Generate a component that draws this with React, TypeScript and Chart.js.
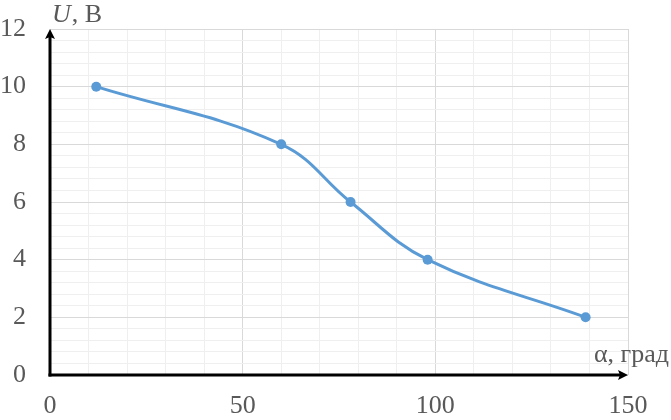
import React, { useEffect, useRef } from 'react';
import { Chart, registerables } from 'chart.js';

Chart.register(...registerables);

// ---- data ----
const alphaDeg = [12, 60, 78, 98, 139];
const voltage = [10, 8, 6, 4, 2];

const xMin = 0;
const xMax = 150;
const xMajorStep = 50;
const xMinorStep = 10;
const yMin = 0;
const yMax = 12;
const yMajorStep = 2;
const yMinorStep = 0.4;

const xTitle = 'α, град';
const yTitleVar = 'U';
const yTitleUnit = ', В';

const FONT = '"Liberation Serif", "Times New Roman", serif';
const TEXT_COLOR = '#595959';
const LINE_COLOR = '#5B9BD5';
const MAJOR_GRID = '#d9d9d9';
const MINOR_GRID = '#efefef';

const isMultiple = (v: number, step: number) => Math.abs(v / step - Math.round(v / step)) < 1e-6;

const arrowAxesPlugin = {
  id: 'arrowAxes',
  afterDraw(chart: any) {
    const { ctx, chartArea: ca, scales } = chart;
    const x0 = scales.x.getPixelForValue(xMin);
    const y0 = scales.y.getPixelForValue(yMin);
    const xEnd = scales.x.getPixelForValue(xMax);
    const yEnd = scales.y.getPixelForValue(yMax);
    ctx.save();
    ctx.strokeStyle = '#000';
    ctx.fillStyle = '#000';
    ctx.lineWidth = 3;
    ctx.lineCap = 'butt';
    // y axis
    ctx.beginPath();
    ctx.moveTo(x0, y0 + 1.5);
    ctx.lineTo(x0, yEnd + 6);
    ctx.stroke();
    ctx.beginPath();
    ctx.moveTo(x0, yEnd);
    ctx.lineTo(x0 - 5, yEnd + 10);
    ctx.lineTo(x0, yEnd + 8);
    ctx.lineTo(x0 + 5, yEnd + 10);
    ctx.closePath();
    ctx.fill();
    // x axis
    ctx.beginPath();
    ctx.moveTo(x0 - 1.5, y0);
    ctx.lineTo(xEnd - 6, y0);
    ctx.stroke();
    ctx.beginPath();
    ctx.moveTo(xEnd, y0);
    ctx.lineTo(xEnd - 10, y0 - 5);
    ctx.lineTo(xEnd - 8, y0);
    ctx.lineTo(xEnd - 10, y0 + 5);
    ctx.closePath();
    ctx.fill();

    // axis titles
    ctx.fillStyle = TEXT_COLOR;
    ctx.textBaseline = 'alphabetic';
    ctx.textAlign = 'left';
    ctx.font = `italic 26px ${FONT}`;
    const tx = x0 + 2;
    const ty = yEnd - 7;
    ctx.fillText(yTitleVar, tx, ty);
    const w = ctx.measureText(yTitleVar).width;
    ctx.font = `26px ${FONT}`;
    ctx.fillText(yTitleUnit, tx + w + 1, ty);

    ctx.textAlign = 'right';
    ctx.fillText(xTitle, ca.right + 41, y0 - 13);
    ctx.restore();
  },
};

export default function App() {
  const canvasRef = useRef<HTMLCanvasElement | null>(null);

  useEffect(() => {
    if (!canvasRef.current) return;
    const chart = new Chart(canvasRef.current, {
      type: 'line',
      data: {
        datasets: [
          {
            data: alphaDeg.map((a, i) => ({ x: a, y: voltage[i] })),
            borderColor: LINE_COLOR,
            backgroundColor: LINE_COLOR,
            borderWidth: 3,
            pointRadius: 5,
            pointBorderWidth: 0,
            pointBackgroundColor: LINE_COLOR,
            tension: 0.4,
            fill: false,
          },
        ],
      },
      options: {
        animation: false,
        responsive: true,
        maintainAspectRatio: false,
        layout: { padding: { top: 29, right: 43, left: 0, bottom: 0 } },
        plugins: {
          legend: { display: false },
          tooltip: { enabled: false },
        },
        scales: {
          x: {
            type: 'linear',
            min: xMin,
            max: xMax,
            border: { display: false },
            grid: {
              drawTicks: false,
              lineWidth: 1,
              color: (c: any) => (isMultiple(c.tick.value, xMajorStep) ? MAJOR_GRID : MINOR_GRID),
            },
            ticks: {
              stepSize: xMinorStep,
              autoSkip: false,
              maxRotation: 0,
              padding: 16,
              color: TEXT_COLOR,
              font: { family: FONT, size: 26 },
              callback: (v: any) => (isMultiple(Number(v), xMajorStep) ? String(Math.round(Number(v))) : ''),
            },
            afterFit: (s: any) => {
              s.height = 45;
              s.paddingLeft = 0;
              s.paddingRight = 0;
            },
          },
          y: {
            type: 'linear',
            min: yMin,
            max: yMax,
            border: { display: false },
            grid: {
              drawTicks: false,
              lineWidth: 1,
              color: (c: any) => (isMultiple(c.tick.value, yMajorStep) ? MAJOR_GRID : MINOR_GRID),
            },
            ticks: {
              stepSize: yMinorStep,
              autoSkip: false,
              crossAlign: 'near',
              padding: 24,
              color: TEXT_COLOR,
              font: { family: FONT, size: 26 },
              callback: (v: any) => (isMultiple(Number(v), yMajorStep) ? String(Math.round(Number(v))) : ''),
            },
            afterFit: (s: any) => {
              s.width = 50;
              s.paddingTop = 0;
              s.paddingBottom = 0;
            },
          },
        },
      },
      plugins: [arrowAxesPlugin],
    });
    return () => chart.destroy();
  }, []);

  return (
    <div style={{ position: 'absolute', left: 0, top: 0, width: 671, height: 420, background: '#fff' }}>
      <canvas ref={canvasRef} />
    </div>
  );
}
